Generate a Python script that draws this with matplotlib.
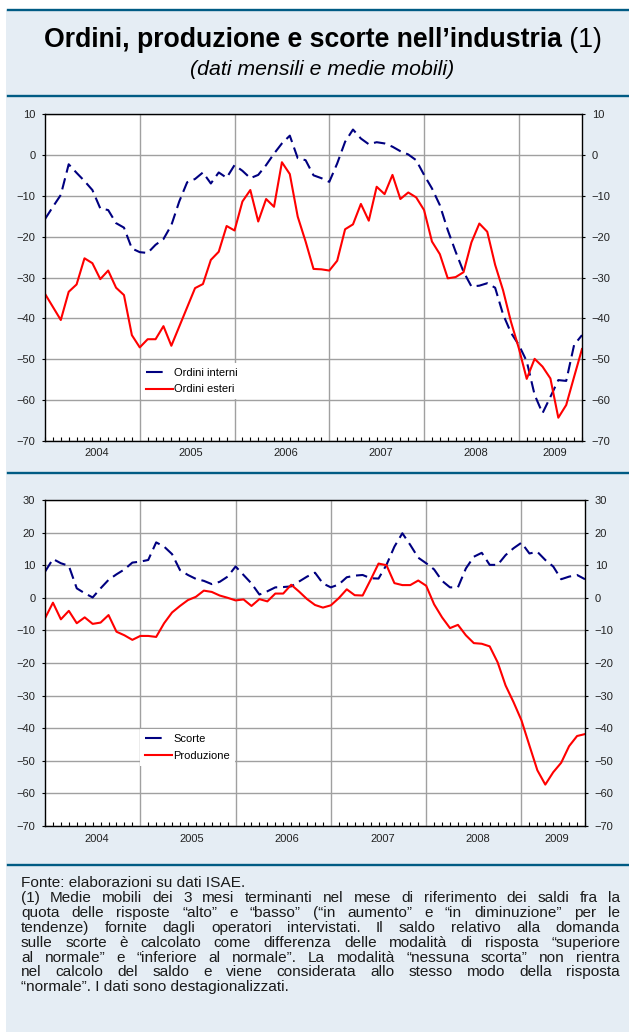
import matplotlib
matplotlib.use("Agg")
import matplotlib.pyplot as plt
import matplotlib.transforms as mtransforms
from matplotlib.lines import Line2D
from matplotlib.patches import Rectangle

# dati mensili gen 2004 - set 2009 (indice mese 0..68)
ordini_interni = [
    -15.7, -12.7, -9.8, -2.3, -4.4, -6.4, -8.6, -13.1, -13.5, -16.7, -17.8, -22.9,
    -23.8, -24.0, -22.0, -20.6, -17.2, -11.4, -6.7, -5.9, -4.3, -7.0, -4.3, -5.6,
    -2.5, -3.9, -5.7, -4.9, -2.5, 0.3, 2.8, 4.7, -0.8, -1.3, -5.0, -5.7,
    -6.6, -2.1, 3.2, 6.2, 4.0, 2.6, 3.1, 2.8, 2.0, 0.9, 0.1, -1.3,
    -4.9, -8.2, -12.3, -18.4, -23.7, -28.6, -32.2, -32.0, -31.4, -32.5, -39.0, -43.5,
    -46.5, -50.5, -58.7, -63.2, -59.2, -55.1, -55.3, -46.5, -44.1,
]
ordini_esteri = [
    -34.0, -37.2, -40.4, -33.5, -31.7, -25.3, -26.5, -30.4, -28.3, -32.5, -34.3, -44.1,
    -47.1, -45.1, -45.1, -41.9, -46.7, -42.0, -37.3, -32.6, -31.6, -25.7, -23.7, -17.4,
    -18.5, -11.4, -8.6, -16.3, -10.8, -12.7, -1.8, -4.7, -15.1, -21.2, -27.9, -28.0,
    -28.3, -25.9, -18.2, -17.0, -12.0, -16.1, -7.8, -9.6, -4.9, -10.8, -9.2, -10.4,
    -13.5, -21.2, -24.3, -30.2, -29.9, -28.7, -21.4, -16.8, -18.8, -26.9, -33.1, -40.8,
    -47.3, -54.8, -49.9, -51.8, -54.7, -64.3, -61.2, -54.3, -47.5,
]
scorte = [
    8.0, 11.9, 10.6, 9.8, 2.9, 1.4, 0.1, 2.9, 5.5, 7.2, 8.7, 10.8,
    11.1, 11.6, 17.0, 15.7, 13.4, 8.5, 7.0, 5.8, 5.2, 4.2, 4.9, 6.5,
    9.6, 7.0, 4.4, 1.0, 2.0, 3.2, 3.3, 3.5, 5.0, 6.5, 7.7, 4.4,
    3.2, 4.1, 6.3, 6.8, 7.0, 6.0, 5.9, 10.1, 15.7, 19.8, 16.2, 12.3,
    10.6, 8.7, 5.2, 3.2, 3.2, 9.0, 12.6, 13.8, 10.1, 10.1, 13.1, 15.2,
    16.9, 13.6, 14.1, 11.6, 9.6, 5.7, 6.5, 7.0, 5.7,
]
produzione = [
    -6.3, -1.5, -6.6, -4.0, -7.8, -6.0, -8.0, -7.6, -5.3, -10.4, -11.5, -12.9,
    -11.7, -11.7, -12.0, -7.8, -4.5, -2.5, -0.7, 0.3, 2.2, 1.8, 0.7, 0.0,
    -0.8, -0.5, -2.5, -0.4, -1.1, 1.3, 1.3, 4.0, 1.9, -0.4, -2.2, -3.0,
    -2.3, -0.1, 2.6, 0.8, 0.7, 5.5, 10.5, 10.0, 4.5, 3.9, 3.9, 5.3,
    3.7, -2.0, -6.0, -9.3, -8.3, -11.5, -13.9, -14.1, -14.9, -19.8, -26.9, -32.0,
    -37.6, -45.3, -52.9, -57.3, -53.5, -50.6, -45.5, -42.4, -41.8,
]
anni = ["2004", "2005", "2006", "2007", "2008", "2009"]
pos_anni = [6.5, 18.5, 30.5, 42.5, 54.5, 64.5]
inizio_anni = [12, 24, 36, 48, 60]
mesi = list(range(len(ordini_esteri)))

note = [
    "Fonte: elaborazioni su dati ISAE.",
    "(1) Medie mobili dei 3 mesi terminanti nel mese di riferimento dei saldi fra la",
    "quota delle risposte “alto” e “basso” (“in aumento” e “in diminuzione” per le",
    "tendenze) fornite dagli operatori intervistati. Il saldo relativo alla domanda",
    "sulle scorte è calcolato come differenza delle modalità di risposta “superiore",
    "al normale” e “inferiore al normale”. La modalità “nessuna scorta” non rientra",
    "nel calcolo del saldo e viene considerata allo stesso modo della risposta",
    "“normale”. I dati sono destagionalizzati.",
]

BG = "#E5EDF4"
SCURO = "#005B84"
BLU = "#000080"
ROSSO = "#FF0000"
GRIGIO = "#A0A0A0"
TESTO = "#1A1A1A"

plt.rcParams["font.family"] = ["Liberation Sans", "DejaVu Sans"]

W, H = 629, 1032
fig = plt.figure(figsize=(W / 100, H / 100), dpi=100)
fig.patch.set_facecolor("white")
renderer = fig.canvas.get_renderer()

fig.patches.append(Rectangle((6 / W, 0), 1 - 6 / W, 1 - 10 / H, transform=fig.transFigure,
                             facecolor=BG, edgecolor="none", zorder=-5))
for yy in [10, 96, 473, 865]:
    fig.add_artist(Line2D([8 / W, 1], [1 - yy / H] * 2, color=SCURO, lw=1.7, zorder=-4))


def larghezza(t):
    return t.get_window_extent(renderer).width


# titolo: parte in grassetto + "(1)" normale, centrati insieme
t1 = fig.text(0, 1 - 47 / H, "Ordini, produzione e scorte nell’industria", fontsize=18,
              fontweight="bold", va="baseline")
t2 = fig.text(0, 1 - 47 / H, " (1)", fontsize=18, va="baseline")
scala = 559 / (larghezza(t1) + larghezza(t2))
t1.set_fontsize(18 * scala)
t2.set_fontsize(18 * scala)
w1, w2 = larghezza(t1), larghezza(t2)
x0 = 322.5 - (w1 + w2) / 2
t1.set_x(x0 / W)
t2.set_x((x0 + w1) / W)

sub = fig.text(322 / W, 1 - 75 / H, "(dati mensili e medie mobili)", fontsize=13,
               style="italic", ha="center", va="baseline")
sub.set_fontsize(13 * 262 / larghezza(sub))


def prepara(ax, ylo, yhi, off):
    ax.set_facecolor("white")
    ax.set_axisbelow(True)
    ax.set_xlim(0, 68)
    ax.set_ylim(ylo, yhi)
    ax.set_yticks(range(ylo, yhi + 1, 10))
    ax.set_xticks(inizio_anni)
    ax.set_xticklabels([])
    ax.set_xticks(mesi, minor=True)
    ax.grid(True, which="major", color=GRIGIO, lw=1.0)
    ax.tick_params(axis="x", which="major", length=0)
    ax.tick_params(axis="x", which="minor", direction="in", length=3, width=0.8)
    ax.tick_params(axis="y", which="major", left=True, right=True, labelleft=True,
                   labelright=True, length=2.5, width=0.8, labelsize=8, pad=4.5,
                   labelcolor="#222222")
    for s in ax.spines.values():
        s.set_color("black")
        s.set_linewidth(1.0)
    tr = mtransforms.blended_transform_factory(ax.transData, ax.transAxes)
    for a, p in zip(anni, pos_anni):
        ax.text(p, off, a, transform=tr, ha="center", va="center", fontsize=8,
                color="#222222")


def legenda(ax, etichette, anchor):
    maniglie = [Line2D([], [], color=BLU, lw=1.5, dashes=(8, 12)),
                Line2D([], [], color=ROSSO, lw=1.5)]
    ax.legend(maniglie, etichette, loc="upper left", bbox_to_anchor=anchor,
              frameon=True, facecolor="white", edgecolor="none", framealpha=1,
              fancybox=False, fontsize=8, handlelength=2.45, handletextpad=0.15,
              borderpad=0.45, labelspacing=0.62, borderaxespad=0)


ax1 = fig.add_axes([45 / W, 1 - 441 / H, 537 / W, 327 / H])
prepara(ax1, -70, 10, -12 / 327)
ax1.plot(mesi, ordini_interni, color=BLU, lw=1.5, dashes=(5.5, 2.8))
ax1.plot(mesi, ordini_esteri, color=ROSSO, lw=1.5)
legenda(ax1, ["Ordini interni", "Ordini esteri"], (0.178, 0.240))

ax2 = fig.add_axes([45 / W, 1 - 826 / H, 540 / W, 326 / H])
prepara(ax2, -70, 30, -13.5 / 326)
ax2.plot(mesi, scorte, color=BLU, lw=1.5, dashes=(5.5, 2.8))
ax2.plot(mesi, produzione, color=ROSSO, lw=1.5)
legenda(ax2, ["Scorte", "Produzione"], (0.175, 0.298))

# note a piè di pagina, giustificate
x_sx, x_dx = 21, 620
prove = [fig.text(0, 0, r, fontsize=10) for r in note[1:-1]]
fs_note = 0.88 * 10 * 594 / max(larghezza(t) for t in prove)
for t in prove:
    t.remove()

for i, riga in enumerate(note):
    yb = 1 - (887 + i * 14.9) / H
    if i == 0 or i == len(note) - 1:
        fig.text(x_sx / W, yb, riga, fontsize=fs_note, va="baseline", color=TESTO)
        continue
    parole = riga.split(" ")
    testi = [fig.text(0, yb, p, fontsize=fs_note, va="baseline", color=TESTO)
             for p in parole]
    larg = [larghezza(t) for t in testi]
    spazio = (x_dx - x_sx - sum(larg)) / (len(parole) - 1)
    x = x_sx
    for t, w in zip(testi, larg):
        t.set_x(x / W)
        x += w + spazio

fig.savefig("out.png", dpi=100, facecolor=fig.get_facecolor())
